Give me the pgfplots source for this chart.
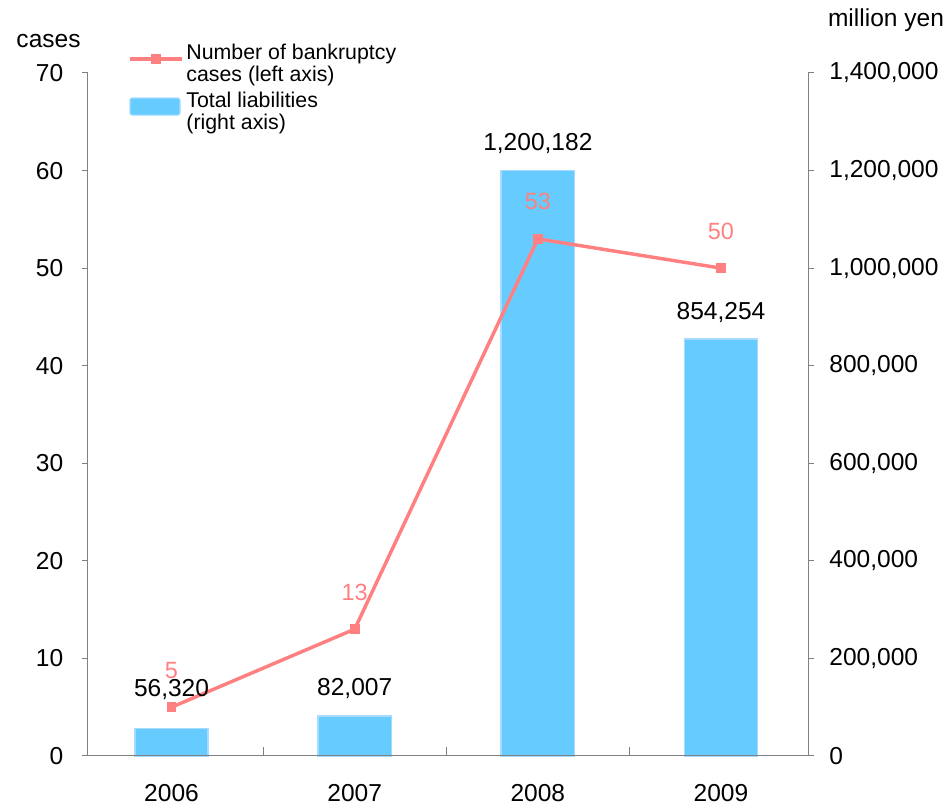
\documentclass[border=0pt]{standalone}
\usepackage{fontspec}
\setmainfont{Liberation Sans}
\usepackage{pgfplots}
\pgfplotsset{compat=1.18}
\definecolor{barblue}{HTML}{66CCFF}
\definecolor{baredge}{HTML}{A6DBFF}
\definecolor{linered}{HTML}{FF8080}
\definecolor{axisgray}{HTML}{808080}
\begin{document}
\begin{tikzpicture}
\pgfplotsset{
  common/.style={
    scale only axis, width=540pt, height=512.25pt,
    xmin=-0.456, xmax=3.475,
    axis line style={axisgray, line width=0.75pt},
    tick style={axisgray, line width=0.75pt},
    tick align=outside, major tick length=4.5pt,
    tick label style={font=\fontsize{18.4}{22}\selectfont},
    /pgf/number format/assume math mode=true,
    clip=false,
  }
}
% right axis: total liabilities (bars)
\begin{axis}[common,
  axis y line*=right, axis x line=none,
  ymin=0, ymax=1400000,
  ytick={0,200000,400000,600000,800000,1000000,1200000,1400000},
  scaled y ticks=false,
  yticklabel style={/pgf/number format/fixed, /pgf/number format/1000 sep={,}, xshift=8pt},
]
\addplot[ybar, bar width=0.4, fill=barblue, draw=baredge, line width=1.2pt]
  coordinates {(0,56320) (1,82007) (2,1200182) (3,854254)};
\coordinate (b0) at (axis cs:0,56320);
\coordinate (b1) at (axis cs:1,82007);
\coordinate (b2) at (axis cs:2,1200182);
\coordinate (b3) at (axis cs:3,854254);
\node[anchor=base, font=\fontsize{18.4}{22}\selectfont] at (rel axis cs:1,1) [xshift=58.5pt, yshift=34.5pt] {million yen};
\end{axis}
% separator ticks on the category axis
\begin{axis}[common,
  axis y line=none, axis x line*=bottom,
  ymin=0, ymax=70,
  xtick={0.5,1.5,2.5}, xticklabels={},
  tick align=inside, major tick length=6.75pt,
]
\end{axis}
% left axis: number of cases (line)
\begin{axis}[common,
  axis y line*=left, axis x line*=bottom,
  ymin=0, ymax=70, ytick={0,10,20,30,40,50,60,70},
  yticklabel style={xshift=-10.5pt},
  xtick={0,1,2,3}, xticklabels={2006,2007,2008,2009},
  xticklabel style={yshift=-13pt},
  major x tick style={draw=none},
  legend cell align=left,
  legend style={draw=none, fill=none, at={(rel axis cs:0.05,1.05)}, anchor=north west,
    font=\fontsize{16}{16.5}\selectfont, cells={align=left}, row sep=2pt},
]
\addplot[color=linered, line width=2.6pt, mark=square*, mark size=3.3pt,
  mark options={solid, fill=linered, line width=0pt},
  legend image code/.code={\draw[mark repeat=2, mark phase=2] plot coordinates {(0pt,3.75pt) (19.5pt,3.75pt) (39pt,3.75pt)};},
  nodes near coords, point meta=explicit,
  every node near coord/.append style={anchor=center, yshift=27.75pt, text=linered, font=\fontsize{17.6}{20}\selectfont}]
  coordinates {(0,5) [5] (1,13) [13] (2,53) [53] (3,50) [50]};
\addlegendentry{Number of bankruptcy\\cases (left axis)}
\addlegendimage{legend image code/.code={\draw[fill=barblue, draw=baredge, line width=0.8pt, rounded corners=1.5pt] (0pt,-2.6pt) rectangle (37.5pt,10.2pt);}}
\addlegendentry{Total liabilities\\(right axis)}
\node[anchor=base, font=\fontsize{18.4}{22}\selectfont] at (rel axis cs:0,1) [xshift=-29.6pt, yshift=18.75pt] {cases};
\end{axis}
\begin{scope}[every node/.style={anchor=center, font=\fontsize{18.4}{22}\selectfont}]
\node[yshift=29.6pt] at (b0) {56,320};
\node[yshift=20.25pt] at (b1) {82,007};
\node[yshift=20.25pt] at (b2) {1,200,182};
\node[yshift=20.25pt] at (b3) {854,254};
\end{scope}
\pgfresetboundingbox
\path (-66pt,-36.75pt) rectangle (643.5pt,567pt);
\end{tikzpicture}
\end{document}
